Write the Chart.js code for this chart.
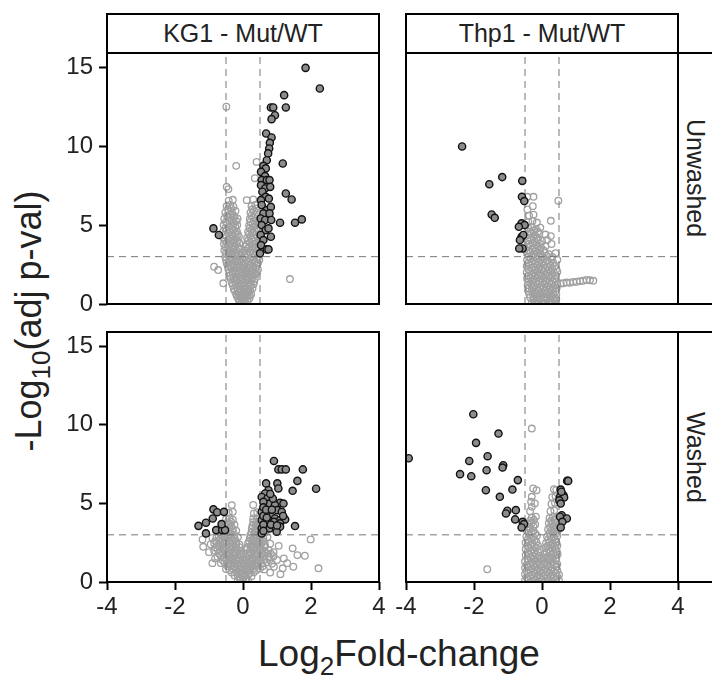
<!DOCTYPE html>
<html>
<head>
<meta charset="utf-8">
<script src="https://cdn.jsdelivr.net/npm/chart.js@4.4.1/dist/chart.umd.min.js"></script>
<style>
  body { margin: 0; background: #fff; }
  #fig { position: relative; width: 712px; height: 679px; overflow: hidden;
         font-family: 'Liberation Sans', Arial, sans-serif; color: #222; }
  #fig canvas { position: absolute; }
  .strip { position: absolute; box-sizing: border-box; border: 2px solid #000; background: #fff;
           font-size: 25px; display: flex; align-items: center; justify-content: center; }
  .strip.side { padding-right: 4px; }
  .strip.side span { writing-mode: vertical-rl; }
  .title { position: absolute; white-space: nowrap; text-align: center; }
  .sub { font-size: 26px; position: relative; top: 9px; }
</style>
</head>
<body>
<div id="fig">
  <div class="title" style="left:-171px; top:301px; width:400px; height:40px; line-height:40px; font-size:36px; transform:rotate(-90deg);">-Log<span class="sub">10</span>(adj p-val)</div>
  <div class="title" style="left:199px; top:634px; width:400px; height:40px; line-height:40px; font-size:37px;">Log<span class="sub">2</span>Fold-change</div>
</div>

<script>
// ─── Data (log2 fold-change, -log10 adj p) ───

const cellLines = ['KG1 - Mut/WT', 'Thp1 - Mut/WT'];
const conditions = ['Unwashed', 'Washed'];

const xRange = [-4, 4];
const yRange = [0, 15.9];
const xTicks = [-4, -2, 0, 2, 4];
const yTicks = [0, 5, 10, 15];
const fcCut = 0.5;
const pCut = 3;

// KG1, unwashed
const kgUnwashedGray = [
  [-0.05,0.08],[0.02,0.12],[0.08,0.05],[-0.1,0.22],[0.13,0.18],[0.0,0.3],
  [-0.15,0.38],[-0.07,0.45],[0.05,0.4],[0.12,0.5],[0.19,0.36],[-0.02,0.58],
  [-0.2,0.62],[-0.12,0.7],[0.08,0.66],[0.16,0.78],[0.24,0.62],[-0.04,0.82],
  [-0.27,0.95],[-0.19,1.05],[-0.1,0.98],[0.03,1.08],[0.11,0.96],[0.2,1.1],[0.28,1.0],
  [-0.33,1.35],[-0.24,1.45],[-0.15,1.32],[-0.06,1.5],[0.02,1.38],[0.09,1.48],[0.17,1.36],[0.25,1.5],[0.33,1.42],
  [-0.38,1.78],[-0.3,1.86],[-0.22,1.74],[-0.13,1.9],[-0.04,1.8],[0.05,1.88],[0.14,1.76],[0.22,1.92],[0.3,1.8],[0.38,1.9],
  [-0.43,2.2],[-0.35,2.28],[-0.26,2.15],[-0.17,2.3],[-0.08,2.2],[0.02,2.26],[0.11,2.16],[0.2,2.3],[0.29,2.2],[0.37,2.28],[0.44,2.18],
  [-0.48,2.6],[-0.4,2.68],[-0.31,2.56],[-0.22,2.7],[-0.13,2.6],[-0.04,2.66],[0.06,2.58],[0.15,2.7],[0.25,2.6],[0.34,2.68],[0.44,2.6],
  [-0.52,3.0],[-0.43,3.08],[-0.34,2.96],[-0.25,3.1],[-0.16,3.0],[-0.06,3.06],[0.05,2.98],[0.15,3.1],[0.25,3.0],[0.35,3.08],[0.45,3.0],
  [-0.55,3.4],[-0.46,3.48],[-0.37,3.36],[-0.28,3.5],[-0.19,3.4],[-0.1,3.46],[0.06,3.38],[0.15,3.5],[0.25,3.4],[0.35,3.48],[0.45,3.4],
  [-0.56,3.8],[-0.47,3.88],[-0.38,3.76],[-0.29,3.9],[-0.2,3.8],[-0.11,3.86],[0.1,3.78],[0.2,3.9],[0.3,3.8],[0.4,3.88],[0.47,3.8],
  [-0.58,4.2],[-0.48,4.28],[-0.39,4.16],[-0.3,4.3],[-0.2,4.2],[-0.12,4.26],[0.12,4.18],[0.22,4.3],[0.32,4.2],[0.42,4.28],
  [-0.58,4.6],[-0.48,4.68],[-0.38,4.56],[-0.28,4.7],[-0.18,4.6],[0.15,4.58],[0.25,4.7],[0.35,4.6],[0.45,4.68],
  [-0.57,5.0],[-0.47,5.08],[-0.37,4.96],[-0.27,5.1],[-0.17,5.0],[0.18,4.98],[0.28,5.1],[0.38,5.0],[0.46,5.08],
  [-0.55,5.4],[-0.45,5.48],[-0.35,5.36],[-0.25,5.5],[-0.16,5.4],[0.2,5.38],[0.3,5.5],[0.4,5.4],
  [-0.52,5.8],[-0.42,5.88],[-0.32,5.76],[-0.22,5.9],[0.22,5.78],[0.32,5.9],[0.42,5.8],
  [-0.48,6.2],[-0.38,6.28],[-0.28,6.16],[0.25,6.2],[0.36,6.28],
  [-0.42,6.55],[-0.3,6.6],[0.11,6.58],[0.3,6.62],
  [-0.11,0.15],[0.05,0.22],[-0.03,0.2],
  [-0.18,0.5],[-0.1,0.55],[0.0,0.48],[0.08,0.56],[0.2,0.52],
  [-0.24,0.82],[-0.15,0.88],[-0.06,0.76],[0.04,0.9],[0.12,0.8],[0.21,0.88],
  [-0.3,1.18],[-0.22,1.25],[-0.13,1.16],[-0.05,1.22],[0.06,1.2],[0.14,1.26],[0.23,1.2],[0.31,1.25],
  [-0.36,1.6],[-0.28,1.65],[-0.19,1.55],[-0.1,1.68],[-0.01,1.6],[0.1,1.66],[0.18,1.56],[0.27,1.66],[0.35,1.6],
  [-0.4,2.0],[-0.31,2.05],[-0.22,1.98],[-0.12,2.06],[-0.03,2.0],[0.07,2.04],[0.16,1.98],[0.25,2.06],[0.34,2.0],[0.41,2.05],
  [-0.45,2.4],[-0.36,2.46],[-0.27,2.38],[-0.18,2.46],[-0.09,2.4],[0.01,2.45],[0.1,2.38],[0.2,2.46],[0.3,2.4],[0.39,2.46],
  [-0.5,2.8],[-0.39,2.86],[-0.3,2.78],[-0.2,2.86],[-0.11,2.8],[0.0,2.84],[0.1,2.78],[0.2,2.86],[0.3,2.8],[0.4,2.86],[0.48,2.8],
  [-0.5,3.2],[-0.41,3.26],[-0.32,3.18],[-0.23,3.26],[-0.14,3.2],[-0.03,3.24],[0.1,3.18],[0.2,3.26],[0.3,3.2],[0.4,3.26],
  [-0.51,3.6],[-0.42,3.66],[-0.33,3.58],[-0.24,3.66],[-0.15,3.6],[0.08,3.64],[0.17,3.58],[0.27,3.66],[0.37,3.6],[0.46,3.64],
  [-0.53,4.0],[-0.43,4.06],[-0.34,3.98],[-0.25,4.06],[-0.16,4.0],[0.15,4.02],[0.25,4.08],[0.35,4.0],[0.45,4.06],
  [-0.53,4.4],[-0.43,4.46],[-0.33,4.38],[-0.23,4.46],[-0.15,4.4],[0.18,4.42],[0.28,4.48],[0.38,4.4],
  [-0.52,4.8],[-0.42,4.86],[-0.32,4.78],[-0.22,4.86],[0.2,4.8],[0.3,4.86],[0.4,4.78],
  [-0.5,5.2],[-0.4,5.26],[-0.3,5.18],[-0.2,5.26],[0.22,5.2],[0.33,5.26],[0.43,5.2],
  [-0.47,5.6],[-0.37,5.66],[-0.27,5.58],[0.25,5.6],[0.35,5.66],
  [-0.44,6.0],[-0.34,6.06],[0.28,6.0],[0.4,6.06],
  [-0.49,12.5],[-0.2,8.75],[0.4,9.0],[0.35,7.97],[-0.48,7.42],[-0.43,7.28],
  [-0.85,2.36],[-0.73,2.15],[-0.58,1.31],[1.38,1.58]
];
const kgUnwashedSig = [
  [1.84,14.96],[2.26,13.65],[1.21,13.23],[0.82,12.45],[0.89,12.45],[1.26,12.45],
  [0.94,11.96],[0.84,11.71],[0.68,10.8],[0.84,10.55],[0.79,10.21],[0.77,9.85],[0.74,9.54],[0.7,9.11],
  [0.6,8.75],[0.67,8.59],[0.53,8.37],[0.65,8.1],[0.55,7.85],[0.7,7.85],[0.53,7.53],[0.65,7.32],
  [0.57,7.11],[0.67,6.79],[0.53,6.58],[0.55,6.27],[0.7,5.95],[0.6,5.74],[0.52,5.42],[0.65,5.32],
  [0.55,5.0],[0.67,4.68],[0.52,4.37],[0.6,4.05],[0.53,3.73],[0.7,3.46],[0.5,3.21],
  [1.17,8.9],[0.78,7.85],[0.8,7.42],[0.76,6.68],[0.82,6.15],[0.78,5.74],[0.83,5.32],[0.75,4.79],[0.82,4.26],
  [1.26,7.0],[1.43,6.62],[1.09,5.15],[1.53,5.15],[1.73,5.36],[0.75,3.46],
  [-0.87,4.79],[-0.71,4.37]
];

// Thp1, unwashed
const thpUnwashedGray = [
  [-0.3,0.08],[-0.2,0.14],[-0.1,0.06],[0.0,0.12],[0.1,0.05],[0.2,0.15],[0.3,0.08],[0.38,0.12],
  [-0.35,0.42],[-0.25,0.36],[-0.15,0.46],[-0.05,0.38],[0.05,0.44],[0.15,0.36],[0.25,0.46],[0.35,0.4],[0.42,0.34],
  [-0.4,0.8],[-0.3,0.86],[-0.2,0.76],[-0.1,0.84],[0.0,0.78],[0.1,0.86],[0.2,0.76],[0.3,0.84],[0.4,0.8],
  [-0.42,1.2],[-0.32,1.26],[-0.22,1.16],[-0.12,1.24],[-0.02,1.18],[0.08,1.26],[0.18,1.16],[0.28,1.24],[0.38,1.18],[0.45,1.25],
  [-0.44,1.6],[-0.34,1.66],[-0.24,1.56],[-0.14,1.64],[-0.04,1.58],[0.06,1.66],[0.16,1.56],[0.26,1.64],[0.36,1.6],
  [-0.45,2.0],[-0.35,2.06],[-0.25,1.96],[-0.15,2.04],[-0.05,1.98],[0.05,2.06],[0.15,1.96],[0.25,2.04],[0.35,2.0],[0.45,2.05],
  [-0.45,2.4],[-0.35,2.46],[-0.25,2.36],[-0.15,2.44],[-0.05,2.38],[0.05,2.46],[0.15,2.36],[0.25,2.44],[0.38,2.4],
  [-0.44,2.8],[-0.34,2.86],[-0.24,2.76],[-0.14,2.84],[-0.04,2.78],[0.06,2.86],[0.16,2.76],[0.28,2.84],[0.45,2.8],
  [-0.44,3.2],[-0.34,3.26],[-0.24,3.16],[-0.14,3.24],[-0.04,3.18],[0.08,3.26],[0.2,3.16],[0.4,3.22],
  [-0.43,3.6],[-0.33,3.66],[-0.23,3.56],[-0.13,3.64],[-0.03,3.58],[0.1,3.66],[0.28,3.8],
  [-0.42,4.0],[-0.32,4.06],[-0.22,3.96],[-0.12,4.04],[0.0,3.98],[0.15,4.06],
  [-0.42,4.4],[-0.32,4.46],[-0.2,4.36],[-0.08,4.44],[0.1,4.4],[0.26,4.3],
  [-0.4,4.8],[-0.3,4.86],[-0.18,4.76],[-0.05,4.84],
  [-0.4,5.2],[-0.28,5.26],[-0.15,5.16],[0.26,5.27],
  [-0.38,5.6],[-0.25,5.66],
  [-0.43,5.99],[-0.27,6.2],
  [-0.43,6.79],[-0.25,6.79],[0.48,6.54],
  [-0.25,0.25],[-0.15,0.22],[-0.05,0.28],[0.05,0.24],[0.15,0.28],[0.25,0.22],[0.35,0.26],
  [-0.37,0.6],[-0.27,0.64],[-0.17,0.58],[-0.07,0.62],[0.03,0.6],[0.13,0.64],[0.23,0.58],[0.33,0.62],[0.42,0.6],
  [-0.38,1.0],[-0.27,1.04],[-0.17,0.98],[-0.07,1.02],[0.03,1.0],[0.13,1.04],[0.23,0.98],[0.33,1.02],[0.43,1.0],
  [-0.39,1.4],[-0.29,1.44],[-0.19,1.38],[-0.09,1.42],[0.01,1.4],[0.11,1.44],[0.21,1.38],[0.31,1.42],[0.41,1.4],
  [-0.4,1.8],[-0.3,1.84],[-0.2,1.78],[-0.1,1.82],[0.0,1.8],[0.1,1.84],[0.2,1.78],[0.3,1.82],[0.4,1.8],
  [-0.4,2.2],[-0.3,2.24],[-0.2,2.18],[-0.1,2.22],[0.0,2.2],[0.1,2.24],[0.2,2.18],[0.3,2.22],[0.42,2.2],
  [-0.4,2.6],[-0.3,2.64],[-0.2,2.58],[-0.1,2.62],[0.0,2.6],[0.1,2.64],[0.2,2.58],[0.33,2.62],
  [-0.39,3.0],[-0.29,3.04],[-0.19,2.98],[-0.09,3.02],[0.02,3.0],[0.14,3.04],[0.3,2.98],
  [-0.38,3.4],[-0.28,3.44],[-0.18,3.38],[-0.08,3.42],[0.05,3.4],
  [-0.37,3.8],[-0.27,3.84],[-0.17,3.78],[-0.06,3.82],
  [-0.37,4.2],[-0.26,4.24],[-0.14,4.18],
  [-0.35,4.6],[-0.24,4.64],[-0.12,4.58],
  [0.55,1.3],[0.63,1.31],[0.72,1.36],[0.82,1.35],[0.92,1.4],[1.02,1.41],
  [1.12,1.45],[1.21,1.47],[1.31,1.52],[1.41,1.5],[1.51,1.47]
];
const thpUnwashedSig = [
  [-2.35,9.98],[-1.17,8.04],[-1.55,7.59],[-0.58,7.8],[-0.59,6.79],[-0.52,6.52],
  [-1.48,5.67],[-1.39,5.46],[-0.6,5.11],[-0.51,5.0],[-0.68,4.89],[-0.6,4.26],
  [-0.55,4.37],[-0.65,4.05],[-0.57,3.52],[-0.67,3.52]
];

// KG1, washed
const kgWashedGray = [
  [-0.15,0.1],[-0.07,0.16],[0.0,0.06],[0.07,0.14],[0.15,0.08],
  [-0.25,0.42],[-0.15,0.36],[-0.05,0.46],[0.05,0.38],[0.15,0.44],[0.25,0.36],
  [-0.5,0.82],[-0.4,0.76],[-0.3,0.86],[-0.2,0.78],[-0.1,0.84],[0.0,0.76],[0.1,0.86],[0.2,0.78],[0.3,0.84],[0.4,0.76],[0.5,0.86],[0.62,0.8],
  [-0.65,1.2],[-0.55,1.26],[-0.45,1.16],[-0.35,1.24],[-0.25,1.18],[-0.15,1.26],[-0.05,1.16],[0.05,1.24],[0.15,1.18],[0.25,1.26],[0.35,1.16],[0.45,1.24],[0.55,1.18],[0.7,1.26],[0.85,1.16],
  [-0.75,1.6],[-0.65,1.66],[-0.55,1.56],[-0.45,1.64],[-0.35,1.58],[-0.25,1.66],[-0.15,1.56],[-0.05,1.64],[0.08,1.58],[0.18,1.66],[0.28,1.56],[0.38,1.64],[0.5,1.58],[0.62,1.66],[0.75,1.56],[0.9,1.64],
  [-0.85,2.0],[-0.75,2.06],[-0.65,1.96],[-0.55,2.04],[-0.45,1.98],[-0.35,2.06],[-0.25,1.96],[-0.15,2.04],[-0.05,1.98],[0.1,2.06],[0.2,1.96],[0.3,2.04],[0.4,1.98],[0.5,2.06],[0.62,1.96],[0.75,2.04],
  [-0.95,2.4],[-0.85,2.46],[-0.72,2.36],[-0.6,2.44],[-0.5,2.38],[-0.4,2.46],[-0.3,2.36],[-0.2,2.44],[-0.1,2.38],[0.15,2.46],[0.25,2.36],[0.35,2.44],[0.45,2.38],[0.55,2.46],[0.65,2.36],[0.8,2.44],
  [-0.9,2.8],[-0.78,2.86],[-0.66,2.76],[-0.55,2.84],[-0.45,2.78],[-0.35,2.86],[-0.25,2.76],[-0.15,2.84],[0.2,2.78],[0.3,2.86],[0.4,2.76],[0.5,2.84],[0.6,2.78],[0.72,2.86],
  [-0.7,3.2],[-0.6,3.26],[-0.5,3.16],[-0.4,3.24],[-0.3,3.18],[-0.2,3.26],[0.25,3.16],[0.35,3.24],[0.45,3.18],[0.55,3.26],[0.65,3.16],
  [-0.55,3.6],[-0.45,3.66],[-0.35,3.56],[-0.25,3.64],[0.28,3.58],[0.38,3.66],[0.48,3.56],
  [-0.5,4.0],[-0.4,4.06],[-0.3,3.96],[0.3,4.04],[0.4,3.98],
  [-0.42,4.4],[-0.3,4.46],[0.32,4.36],[0.42,4.44],
  [-0.33,4.89],[0.3,4.9],
  [-0.1,0.25],[0.0,0.3],[0.1,0.24],[-0.2,0.6],[-0.1,0.62],[0.0,0.56],[0.1,0.64],[0.2,0.58],[0.32,0.62],[-0.33,0.6],
  [-0.45,1.0],[-0.35,1.04],[-0.25,0.98],[-0.15,1.02],[-0.05,1.0],[0.05,1.04],[0.15,0.98],[0.25,1.02],[0.35,1.0],[0.45,1.04],[0.58,1.0],
  [-0.6,1.4],[-0.5,1.44],[-0.4,1.38],[-0.3,1.42],[-0.2,1.4],[-0.1,1.44],[0.0,1.38],[0.1,1.42],[0.2,1.4],[0.3,1.44],[0.4,1.38],[0.5,1.42],[0.62,1.4],[0.78,1.42],
  [-0.7,1.8],[-0.6,1.84],[-0.5,1.78],[-0.4,1.82],[-0.3,1.8],[-0.2,1.84],[-0.1,1.78],[0.02,1.82],[0.13,1.8],[0.23,1.84],[0.33,1.78],[0.43,1.82],[0.55,1.8],[0.68,1.84],[0.82,1.8],
  [-0.8,2.2],[-0.7,2.24],[-0.6,2.18],[-0.5,2.22],[-0.4,2.2],[-0.3,2.24],[-0.2,2.18],[-0.1,2.22],[0.12,2.2],[0.22,2.24],[0.32,2.18],[0.42,2.22],[0.52,2.2],[0.64,2.24],
  [-0.82,2.6],[-0.7,2.64],[-0.6,2.58],[-0.5,2.62],[-0.4,2.6],[-0.3,2.64],[-0.2,2.58],[0.18,2.6],[0.28,2.64],[0.38,2.58],[0.48,2.62],[0.6,2.6],
  [-0.65,3.0],[-0.55,3.04],[-0.45,2.98],[-0.35,3.02],[-0.25,3.0],[0.22,3.0],[0.32,3.04],[0.42,2.98],[0.52,3.02],
  [-0.5,3.4],[-0.4,3.44],[-0.3,3.38],[0.26,3.4],[0.36,3.44],[0.46,3.38],
  [-0.45,3.8],[-0.35,3.84],[0.3,3.8],[0.4,3.84],
  [0.9,1.9],[1.05,2.3],[1.2,1.5],[1.46,2.14],[1.6,1.71],[1.48,0.97],[1.17,0.87],[0.91,0.97],
  [1.3,1.2],[1.0,1.4],[1.82,1.67],[1.99,2.71],[2.22,0.87],[0.8,0.6],[1.1,0.5],
  [-1.19,2.71],[-1.17,2.24],[-0.82,1.5],[-1.0,1.9],[-0.9,1.2]
];
const kgWashedSig = [
  [0.91,7.7],[1.04,7.16],[1.14,7.16],[1.26,7.16],[1.76,7.16],[1.6,6.43],[2.15,5.93],[1.46,5.8],
  [0.68,6.27],[0.75,5.84],[0.65,5.63],[0.55,5.41],[0.72,5.31],[1.01,6.27],[1.04,5.95],
  [0.89,4.99],[1.09,5.03],[1.19,4.99],[0.78,4.99],[0.94,4.89],
  [0.55,4.46],[0.79,4.46],[1.01,4.57],[1.14,4.46],
  [0.84,4.15],[0.94,4.04],[1.09,3.94],[1.24,3.98],
  [0.55,3.94],[0.71,3.83],[0.91,3.83],[1.09,3.73],
  [0.55,3.41],[0.78,3.41],[0.97,3.41],[1.09,3.52],
  [0.55,3.09],[0.99,3.2],[1.53,3.56],
  [0.6,5.1],[0.6,4.75],[0.6,4.2],[0.6,3.65],[0.6,3.25],[0.68,4.6],[0.85,4.6],
  [0.7,4.1],[0.82,3.65],[1.0,3.6],[0.88,5.3],[0.8,5.6],[1.18,4.2],
  [-1.31,3.57],[-1.09,3.77],[-1.09,3.09],[-0.87,4.62],[-0.76,4.44],[-0.56,4.46],
  [-0.89,4.04],[-0.79,3.3],[-0.61,3.3],[-0.53,3.3],[-0.63,3.68]
];

// Thp1, washed
const thpWashedGray = [
  [-0.5,0.1],[-0.4,0.16],[-0.3,0.06],[-0.2,0.14],[-0.1,0.08],[0.0,0.16],[0.1,0.06],[0.2,0.14],[0.3,0.08],[0.4,0.16],[0.5,0.1],
  [-0.5,0.5],[-0.4,0.56],[-0.3,0.46],[-0.2,0.54],[-0.1,0.48],[0.0,0.56],[0.1,0.46],[0.2,0.54],[0.3,0.48],[0.4,0.56],[0.5,0.46],
  [-0.5,0.9],[-0.4,0.96],[-0.3,0.86],[-0.2,0.94],[-0.1,0.88],[0.0,0.96],[0.1,0.86],[0.2,0.94],[0.3,0.88],[0.42,0.96],
  [-0.5,1.3],[-0.4,1.36],[-0.3,1.26],[-0.2,1.34],[-0.1,1.28],[0.0,1.36],[0.1,1.26],[0.2,1.34],[0.3,1.28],[0.4,1.36],
  [-0.48,1.7],[-0.38,1.76],[-0.28,1.66],[-0.18,1.74],[-0.08,1.68],[0.08,1.76],[0.18,1.66],[0.28,1.74],[0.38,1.68],[0.46,1.76],
  [-0.48,2.1],[-0.38,2.16],[-0.28,2.06],[-0.18,2.14],[-0.06,2.08],[0.1,2.16],[0.2,2.06],[0.3,2.14],[0.4,2.08],
  [-0.48,2.5],[-0.38,2.56],[-0.28,2.46],[-0.17,2.54],[0.12,2.48],[0.22,2.56],[0.32,2.46],[0.42,2.54],
  [-0.46,2.9],[-0.36,2.96],[-0.26,2.86],[-0.15,2.94],[0.15,2.88],[0.25,2.96],[0.35,2.86],[0.45,2.94],
  [-0.45,3.3],[-0.35,3.36],[-0.25,3.26],[0.18,3.34],[0.28,3.28],[0.38,3.36],[0.46,3.26],
  [-0.42,3.7],[-0.3,3.76],[-0.2,3.66],[0.2,3.74],[0.3,3.68],[0.4,3.76],
  [-0.3,4.1],[-0.18,4.16],[0.22,4.06],[0.32,4.14],[0.42,4.08],
  [-0.35,4.5],[-0.3,4.78],[0.25,4.5],[0.36,4.56],
  [-0.21,5.0],[-0.32,5.1],[0.28,4.96],[0.38,5.04],
  [-0.3,5.42],[0.3,5.4],[0.4,5.46],
  [-0.26,5.95],[-0.16,5.84],[0.35,5.9],[0.42,5.86],
  [-0.45,0.3],[-0.35,0.34],[-0.25,0.28],[-0.15,0.32],[-0.05,0.3],[0.05,0.34],[0.15,0.28],[0.25,0.32],[0.35,0.3],[0.45,0.34],
  [-0.45,0.7],[-0.35,0.74],[-0.25,0.68],[-0.15,0.72],[-0.05,0.7],[0.05,0.74],[0.15,0.68],[0.25,0.72],[0.35,0.7],[0.45,0.74],
  [-0.45,1.1],[-0.35,1.14],[-0.25,1.08],[-0.15,1.12],[-0.05,1.1],[0.05,1.14],[0.15,1.08],[0.25,1.12],[0.35,1.1],[0.45,1.14],
  [-0.43,1.5],[-0.33,1.54],[-0.23,1.48],[-0.13,1.52],[-0.02,1.5],[0.12,1.54],[0.22,1.48],[0.32,1.52],[0.42,1.5],
  [-0.43,1.9],[-0.33,1.94],[-0.23,1.88],[-0.12,1.92],[0.14,1.9],[0.24,1.94],[0.34,1.88],[0.44,1.92],
  [-0.43,2.3],[-0.33,2.34],[-0.23,2.28],[-0.12,2.32],[0.16,2.3],[0.26,2.34],[0.36,2.28],[0.45,2.32],
  [-0.42,2.7],[-0.32,2.74],[-0.22,2.68],[0.18,2.7],[0.28,2.74],[0.38,2.68],
  [-0.4,3.1],[-0.3,3.14],[-0.2,3.08],[0.22,3.1],[0.32,3.14],[0.42,3.08],
  [-0.36,3.5],[-0.25,3.54],[0.24,3.5],[0.34,3.54],[0.43,3.48],
  [-0.35,3.9],[-0.24,3.94],[0.27,3.9],[0.37,3.94],
  [-0.3,9.76],[-1.61,0.81]
];
const thpWashedSig = [
  [-3.92,7.87],[-2.02,10.67],[-1.28,9.44],[-1.94,8.85],[-2.14,7.7],[-1.6,8.0],[-2.41,6.86],[-2.08,6.73],
  [-1.63,7.11],[-1.14,7.43],[-1.16,7.28],[-0.71,6.48],[-1.65,5.84],[-0.87,5.88],[-1.24,5.42],
  [-1.02,4.53],[-1.06,4.36],[-0.77,4.57],[-0.79,3.98],[-0.57,3.83],[-0.53,3.68],[-0.6,3.47],
  [0.74,6.43],[0.77,6.43],[0.55,5.88],[0.63,5.52],[0.53,5.42],[0.65,5.38],[0.57,5.74],[0.51,5.19],
  [0.55,4.99],[0.58,4.25],[0.73,4.04],[0.53,4.15],[0.6,3.83],[0.55,3.47]
];

const panelData = [
  [[kgUnwashedGray, kgUnwashedSig], [thpUnwashedGray, thpUnwashedSig]],
  [[kgWashedGray, kgWashedSig], [thpWashedGray, thpWashedSig]],
];

// ─── Layout ───

const FONT = "'Liberation Sans', Arial, sans-serif";
const colLeft = [107, 406];
const rowTop = [53, 332];
const rowH = [251, 250];
const plotW = 272;
// canvas margins round the plot area; hidden axes still reserve their box
const PAD_L = 70, PAD_R = 14, PAD_T = 10, PAD_B = 40;

Chart.defaults.font.family = FONT;
Chart.defaults.font.size = 24;
Chart.defaults.color = '#222';

const toPts = arr => arr.map(([x, y]) => ({ x, y }));

const panelBorder = {
  id: 'panelBorder',
  afterDatasetsDraw(chart) {
    const { ctx, chartArea: a } = chart;
    ctx.save();
    ctx.strokeStyle = '#000';
    ctx.lineWidth = 2;
    ctx.strokeRect(a.left, a.top, a.right - a.left, a.bottom - a.top);
    ctx.restore();
  }
};

function cutLine(points) {
  return {
    data: points, showLine: true, pointRadius: 0, borderColor: '#777',
    borderWidth: 1, borderDash: [7, 5], clip: 0, order: 1,
  };
}

// fixed axis boxes, no extra label overflow padding
function fixBox(ax, size) {
  if (ax.isHorizontal()) ax.height = size; else ax.width = size;
  ax.paddingTop = ax.paddingBottom = ax.paddingLeft = ax.paddingRight = 0;
}

function makePanel(row, col) {
  const fig = document.getElementById('fig');
  const cv = document.createElement('canvas');
  const w = plotW + PAD_L + PAD_R;
  const h = rowH[row] + PAD_T + PAD_B;
  cv.width = w; cv.height = h;
  cv.style.width = w + 'px'; cv.style.height = h + 'px';
  cv.style.left = (colLeft[col] - PAD_L) + 'px';
  cv.style.top = (rowTop[row] - PAD_T) + 'px';
  fig.appendChild(cv);

  const [gray, sig] = panelData[row][col];
  const gridOpts = { drawOnChartArea: false, drawTicks: true, tickLength: 8, tickColor: '#000', tickWidth: 2 };

  new Chart(cv, {
    type: 'scatter',
    data: {
      datasets: [
        { data: toPts(sig), pointRadius: 3.6, pointBorderWidth: 1.4,
          pointBackgroundColor: '#8c8c8c', pointBorderColor: '#111', clip: 0, order: 0 },
        cutLine([{ x: -fcCut, y: yRange[0] }, { x: -fcCut, y: yRange[1] }]),
        cutLine([{ x: fcCut, y: yRange[0] }, { x: fcCut, y: yRange[1] }]),
        cutLine([{ x: xRange[0], y: pCut }, { x: xRange[1], y: pCut }]),
        { data: toPts(gray), pointRadius: 3.3, pointBorderWidth: 1.3,
          pointBackgroundColor: 'rgba(0,0,0,0)', pointBorderColor: '#a0a0a0', clip: 0, order: 2 },
      ]
    },
    options: {
      responsive: false,
      animation: false,
      devicePixelRatio: 1,
      events: [],
      layout: { padding: { left: 0, right: PAD_R, top: PAD_T, bottom: 0 } },
      plugins: { legend: { display: false }, tooltip: { enabled: false } },
      scales: {
        x: {
          type: 'linear', min: xRange[0], max: xRange[1], display: row === 1,
          afterBuildTicks: ax => { ax.ticks = xTicks.map(v => ({ value: v })); },
          afterFit: ax => fixBox(ax, PAD_B),
          grid: gridOpts, border: { display: false },
          ticks: { padding: 3, maxRotation: 0, autoSkip: false },
        },
        y: {
          type: 'linear', min: yRange[0], max: yRange[1], display: col === 0,
          afterBuildTicks: ax => { ax.ticks = yTicks.map(v => ({ value: v })); },
          afterFit: ax => fixBox(ax, PAD_L),
          grid: gridOpts, border: { display: false },
          ticks: { padding: 6, autoSkip: false },
        },
      },
    },
    plugins: [panelBorder],
  });
}

function addStrips() {
  const fig = document.getElementById('fig');
  cellLines.forEach((name, col) => {
    const d = document.createElement('div');
    d.className = 'strip';
    Object.assign(d.style, { left: (colLeft[col] - 1) + 'px', top: '13px', width: (plotW + 2) + 'px', height: '41px' });
    d.textContent = name;
    fig.appendChild(d);
  });
  conditions.forEach((name, row) => {
    const d = document.createElement('div');
    d.className = 'strip side';
    Object.assign(d.style, { left: (colLeft[1] + plotW - 1) + 'px', top: (rowTop[row] - 1) + 'px', width: '40px', height: (rowH[row] + 2) + 'px' });
    d.innerHTML = `<span>${name}</span>`;
    fig.appendChild(d);
  });
}

[0, 1].forEach(row => [0, 1].forEach(col => makePanel(row, col)));
addStrips();
</script>
</body>
</html>
